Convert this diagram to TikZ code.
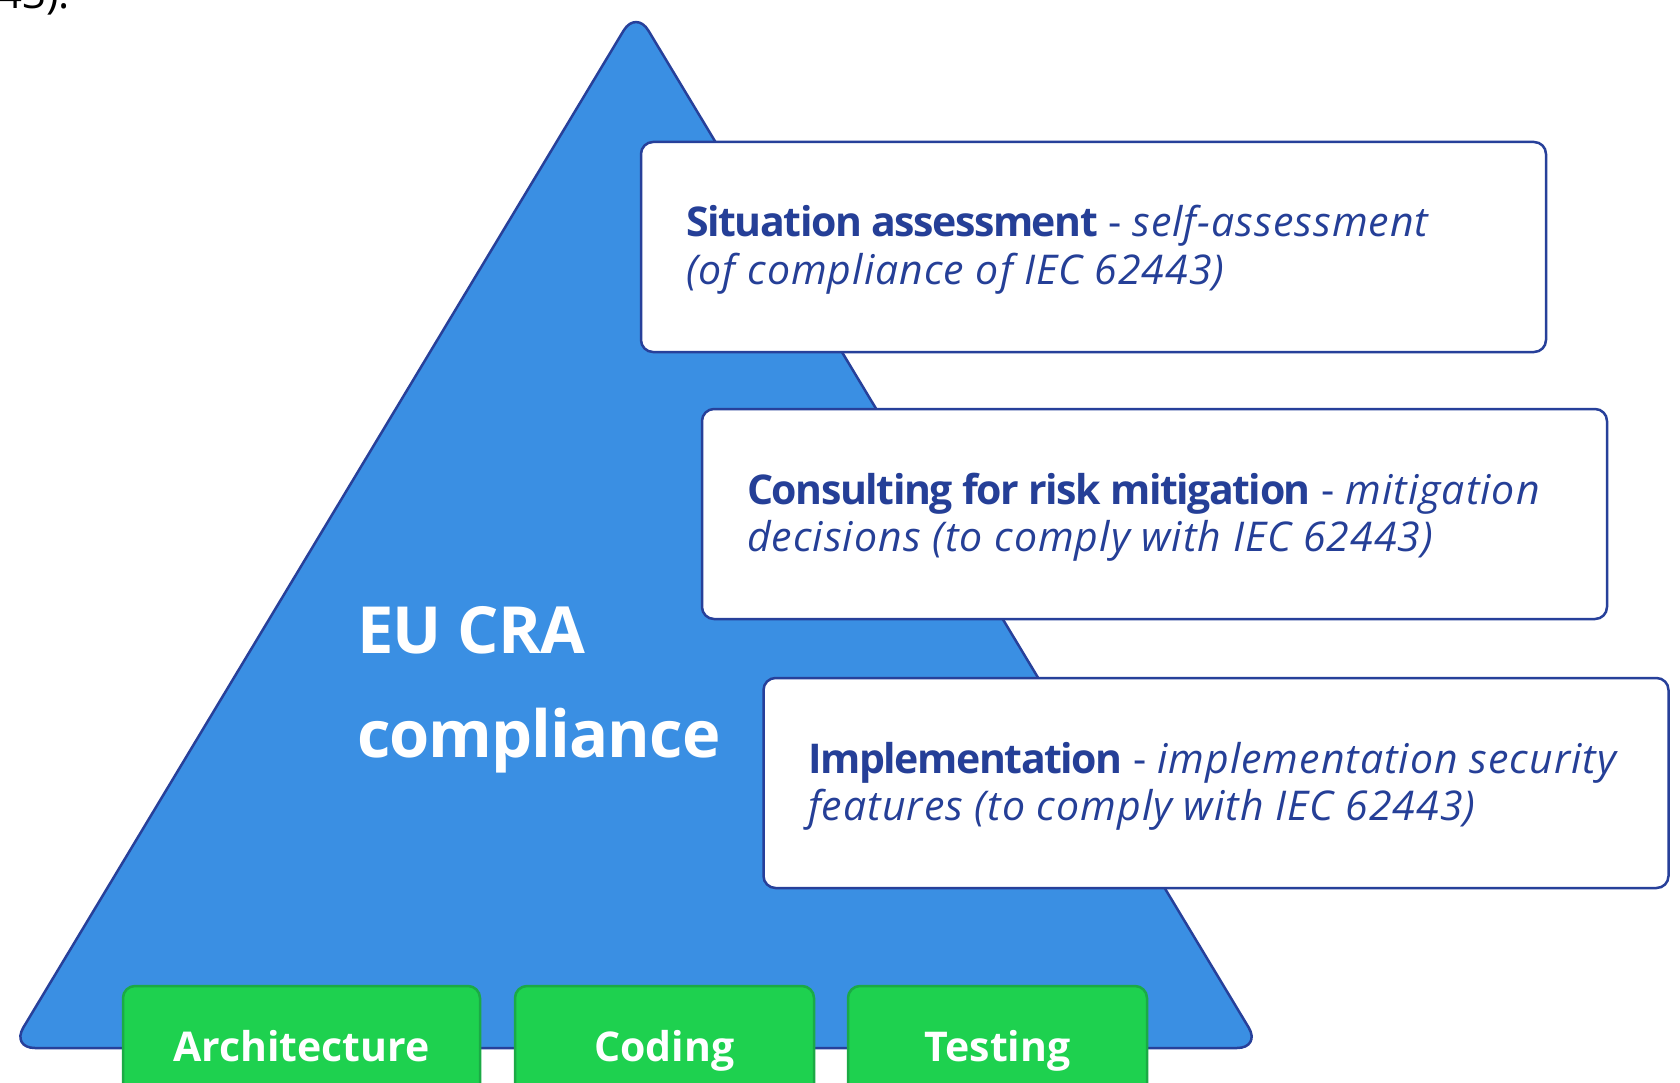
\documentclass[tikz,border=0pt]{standalone}
\usepackage{fontspec}
\setmainfont{Open Sans}
\definecolor{triblue}{HTML}{3A8FE3}
\definecolor{navy}{HTML}{27409A}
\definecolor{txtblue}{HTML}{253F97}
\definecolor{grfill}{HTML}{1ED14F}
\definecolor{grline}{HTML}{1BAA45}
\newcommand\boldpart[1]{{\bfseries\addfontfeature{LetterSpace=-3.5}#1}}
\newcommand\italpart[1]{{\itshape\addfontfeature{LetterSpace=2.5}#1}}
\begin{document}
\begin{tikzpicture}[x=1pt,y=-1pt,
  tri/.style={draw=navy, line width=2.5pt, fill=triblue, rounded corners=24pt, line join=round},
  infobox/.style={draw=navy, line width=2.5pt, fill=white, rounded corners=12pt, minimum width=905pt, minimum height=210pt, inner sep=0pt},
  greenbox/.style={draw=grline, line width=2.5pt, fill=grfill, rounded corners=12pt, minimum height=130pt, inner sep=0pt},
  boxtext/.style={anchor=base west, inner sep=0pt, text=txtblue, font=\fontsize{41}{47}\selectfont},
  greentext/.style={anchor=base, inner sep=0pt, text=white, font=\fontsize{41}{47}\selectfont\bfseries},
  bigtext/.style={anchor=base west, inner sep=0pt, text=white, font=\fontsize{65}{70}\selectfont\bfseries\addfontfeature{LetterSpace=-1.5}}]
\useasboundingbox (0,0) rectangle (1680,1083);
\clip (0,0) rectangle (1680,1083);
\fill[white] (0,0) rectangle (1680,1083);
\node[anchor=base east, inner sep=0pt, font=\fontsize{42}{47}\selectfont] (frag) at (70,9) {43).};
\draw[tri] (11,1048) -- (636,10) -- (1261,1048) -- cycle;
\node[bigtext] (eu) at (357,653) {EU CRA};
\node[bigtext] (comp) at (357,757) {compliance};
\node[infobox] (b1) at (1093.5,247) {};
\node[infobox] (b2) at (1154.5,514) {};
\node[infobox] (b3) at (1216,783) {};
\node[boxtext] (b1a) at (686,237) {\boldpart{Situation assessment} - \italpart{self-assessment}};
\node[boxtext] (b1b) at (686,284) {\italpart{(of compliance of IEC 62443)}};
\node[boxtext] (b2a) at (747,504) {\boldpart{Consulting for risk mitigation} - \italpart{mitigation}};
\node[boxtext] (b2b) at (747,551) {\italpart{decisions (to comply with IEC 62443)}};
\node[boxtext] (b3a) at (808,773) {\boldpart{Implementation} - \italpart{implementation security}};
\node[boxtext] (b3b) at (808,820) {\italpart{features (to comply with IEC 62443)}};
\node[greenbox, minimum width=357pt] (arch) at (301.5,1051) {};
\node[greenbox, minimum width=299pt] (cod) at (664.5,1051) {};
\node[greenbox, minimum width=299pt] (tst) at (997.5,1051) {};
\node[greentext] (archt) at (301.5,1061) {Architecture};
\node[greentext] (codt) at (664.5,1061) {Coding};
\node[greentext] (tstt) at (997.5,1061) {Testing};
\end{tikzpicture}
\end{document}
